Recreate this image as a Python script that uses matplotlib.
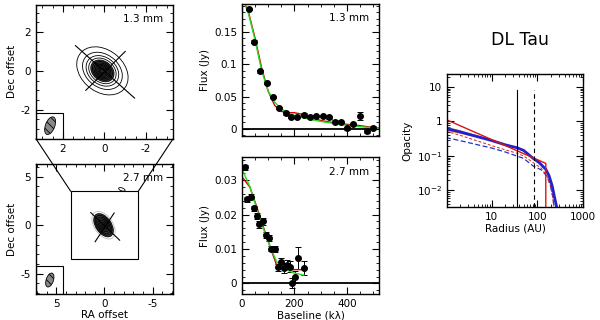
import numpy as np
import matplotlib
matplotlib.use('Agg')
import matplotlib.pyplot as plt
from matplotlib.patches import Ellipse, Rectangle, ConnectionPatch
from matplotlib.ticker import MultipleLocator, LogLocator, NullFormatter

## -----------------------------------------------------------------------------

## data

# visibilities, 1.3 mm
base13 = [25, 47, 70, 94, 119, 142, 166, 188, 211, 237, 260, 283, 307, 331, 355, 378, 401, 424, 449, 475, 498]
flux13 = [0.185, 0.135, 0.089, 0.071, 0.049, 0.032, 0.024, 0.019, 0.019, 0.022, 0.019, 0.020, 0.020, 0.018,
          0.011, 0.0105, 0.001, 0.0077, 0.020, -0.003, 0.002]
err13 = [0.002, 0.002, 0.002, 0.002, 0.002, 0.002, 0.002, 0.002, 0.002, 0.002, 0.002, 0.002, 0.002, 0.002,
         0.002, 0.002, 0.002, 0.002, 0.006, 0.003, 0.002]

# model curves, 1.3 mm
mbase13 = [0, 25, 50, 75, 100, 125, 150, 175, 200, 225, 250, 300, 350, 400, 450, 500, 520]
green13 = [0.205, 0.178, 0.137, 0.090, 0.058, 0.041, 0.031, 0.025, 0.021, 0.018, 0.0155, 0.0115, 0.0083,
           0.0055, 0.0033, 0.0017, 0.0012]
red13 = [0.205, 0.180, 0.140, 0.094, 0.058, 0.036, 0.027, 0.025, 0.025, 0.023, 0.019, 0.013, 0.0095,
         0.007, 0.005, 0.002, 0.0015]

# visibilities, 2.7 mm
base27 = [11, 20, 33, 46, 56, 66, 79, 91, 102, 112, 125, 136, 147, 159, 170, 183, 190, 202, 213, 236]
flux27 = [0.0337, 0.0244, 0.0252, 0.0218, 0.0196, 0.0172, 0.0181, 0.0140, 0.0132, 0.0101, 0.0100,
          0.0047, 0.0061, 0.0044, 0.0053, 0.0049, 0.0002, 0.0019, 0.0073, 0.0044]
err27 = [0.0008, 0.0008, 0.0008, 0.0008, 0.0008, 0.0010, 0.0010, 0.0008, 0.0008, 0.0008, 0.0008,
         0.0010, 0.0012, 0.0015, 0.0015, 0.0015, 0.0015, 0.0018, 0.0032, 0.0020]

# model curves, 2.7 mm
mbase27 = [5, 30, 56, 81, 107, 132, 157, 195, 236]
green27 = [0.0324, 0.0281, 0.0218, 0.0160, 0.0107, 0.0063, 0.0044, 0.0031, 0.0024]
red27 = [0.0305, 0.0280, 0.0223, 0.0165, 0.0107, 0.0053, 0.0044, 0.0040, 0.0040]

# continuum maps: contour half axes (arcsec)
cont13_a = [1.40, 1.08, 0.88, 0.74, 0.63, 0.54, 0.46, 0.38, 0.31, 0.24, 0.17, 0.10]
cont13_b = [1.05, 0.82, 0.68, 0.57, 0.48, 0.41, 0.35, 0.29, 0.24, 0.18, 0.13, 0.07]
cont27_a = [1.60, 1.35, 1.15, 0.95, 0.75, 0.55, 0.35, 0.15]
cont27_b = [0.95, 0.80, 0.68, 0.56, 0.45, 0.33, 0.21, 0.09]

# opacity profiles
rad_pl = [1, 153, 153]
opa_red = [1.14, 0.061, 0.001]
rad_taper = [1, 2, 5, 10, 20, 36, 50, 83, 110, 153, 180, 212, 240, 265, 280]
opa_blue = [0.62, 0.50, 0.36, 0.28, 0.21, 0.173, 0.145, 0.083, 0.064, 0.041, 0.027, 0.0133, 0.006, 0.0033, 0.001]
rad_dash = [1, 2, 5, 10, 20, 36, 50, 83, 120, 162, 190, 215, 230, 245]
opa_bdash = [0.34, 0.28, 0.21, 0.17, 0.13, 0.099, 0.085, 0.05, 0.04, 0.026, 0.015, 0.007, 0.0035, 0.001]
opa_rdash = [0.52, 0.40, 0.27, 0.20, 0.15, 0.12, 0.10, 0.063, 0.045, 0.027, 0.015, 0.007, 0.0035, 0.001]
rad_thin = [1, 2, 5, 10, 20, 36]
opa_orange = [0.55, 0.46, 0.35, 0.28, 0.21, 0.173]
opa_green = [0.60, 0.49, 0.36, 0.28, 0.21, 0.173]
opa_gray = [0.68, 0.54, 0.38, 0.29, 0.215, 0.175]
r_in = 36
r_c = 83

## -----------------------------------------------------------------------------

## plotting

plt.rcParams['font.family'] = 'DejaVu Sans'
plt.rcParams['font.size'] = 7.5
plt.rcParams['xtick.direction'] = 'in'
plt.rcParams['ytick.direction'] = 'in'
plt.rcParams['xtick.top'] = True
plt.rcParams['ytick.right'] = True
plt.rcParams['xtick.major.size'] = 5
plt.rcParams['ytick.major.size'] = 5
plt.rcParams['xtick.minor.size'] = 2.5
plt.rcParams['ytick.minor.size'] = 2.5
plt.rcParams['axes.linewidth'] = 1.0
plt.rcParams['hatch.linewidth'] = 0.6

fig = plt.figure(figsize=(6, 3.2), dpi=100)

ax1 = fig.add_axes([0.06, 0.566, 0.2283, 0.419])
ax2 = fig.add_axes([0.06, 0.081, 0.2283, 0.406])
ax3 = fig.add_axes([0.4033, 0.575, 0.2283, 0.4125])
ax4 = fig.add_axes([0.4033, 0.081, 0.2283, 0.428])
ax5 = fig.add_axes([0.745, 0.353, 0.2267, 0.416])


def mapframe(ax, a, b, angle, fill_from, beam, beamsize, box):
    for i, (ma, mi) in enumerate(zip(a, b)):
        fc = '#3a3a3a' if i == fill_from else 'none'
        ax.add_patch(Ellipse((0.1, 0), 2 * ma, 2 * mi, angle=angle, fc=fc, ec='k', lw=0.6))
    # beam
    ax.add_patch(Ellipse(beam, beamsize[0], beamsize[1], angle=109, fc='#888888', ec='k',
                         lw=0.6, hatch='\\\\\\\\'))
    ax.add_patch(Rectangle(box[0], box[1], box[2], fc='none', ec='k', lw=0.8))


zero_fmt = plt.FuncFormatter(lambda v, p: '0' if abs(v) < 1e-9 else '%g' % v)

# 1.3 mm map
ax1.set_xlim(3.3, -3.3)
ax1.set_ylim(-3.5, 3.4)
mapframe(ax1, cont13_a, cont13_b, 45, 4, (2.62, -2.82), (0.95, 0.45),
         ((2.0, -3.5), 1.3, 1.35))
ax1.plot([1.4, -1.45], [1.3, -1.4], 'k-', lw=0.8)
ax1.plot([0.9, -1.0], [-1.0, 1.0], 'k-', lw=0.8)
ax1.text(0.93, 0.93, '1.3 mm', transform=ax1.transAxes, ha='right', va='top')
ax1.xaxis.set_major_locator(MultipleLocator(2))
ax1.xaxis.set_minor_locator(MultipleLocator(0.5))
ax1.yaxis.set_major_locator(MultipleLocator(2))
ax1.yaxis.set_minor_locator(MultipleLocator(0.5))
ax1.xaxis.set_major_formatter(zero_fmt)
ax1.yaxis.set_major_formatter(zero_fmt)
ax1.set_ylabel('Dec offset', labelpad=3)

# 2.7 mm map
ax2.set_xlim(7.1, -7.1)
ax2.set_ylim(-7.1, 6.3)
mapframe(ax2, cont27_a, cont27_b, 55, 1, (5.67, -5.65), (1.5, 0.75),
         ((4.3, -7.1), 2.8, 2.9))
ax2.patches[0].set_edgecolor('#bbbbbb')
ax2.plot([1.42, -1.57], [1.3, -1.54], 'k-', lw=0.8)
ax2.plot([0.97, -1.0], [-1.7, 1.26], 'k-', lw=0.8)
ax2.add_patch(Ellipse((-1.8, 3.7), 0.7, 0.3, angle=20, fc='none', ec='k', lw=0.6))
ax2.add_patch(Rectangle((-3.5, -3.5), 7.0, 7.0, fc='none', ec='k', lw=0.8))
ax2.text(0.93, 0.93, '2.7 mm', transform=ax2.transAxes, ha='right', va='top')
ax2.xaxis.set_major_locator(MultipleLocator(5))
ax2.xaxis.set_minor_locator(MultipleLocator(1))
ax2.yaxis.set_major_locator(MultipleLocator(5))
ax2.yaxis.set_minor_locator(MultipleLocator(1))
ax2.xaxis.set_major_formatter(zero_fmt)
ax2.yaxis.set_major_formatter(zero_fmt)
ax2.set_xlabel('RA offset', labelpad=1)
ax2.set_ylabel('Dec offset', labelpad=3)

# zoom lines between maps
for xa, xb in [(3.3, 3.5), (-3.3, -3.5)]:
    con = ConnectionPatch(xyA=(xa, -3.5), coordsA=ax1.transData,
                          xyB=(xb, 3.5), coordsB=ax2.transData, color='k', lw=0.8)
    fig.add_artist(con)

# visibilities
for ax, b, f, e, mb, g, r, lab in [(ax3, base13, flux13, err13, mbase13, green13, red13, '1.3 mm'),
                                   (ax4, base27, flux27, err27, mbase27, green27, red27, '2.7 mm')]:
    ax.axhline(0, color='k', lw=1.3)
    ax.errorbar(b, f, yerr=e, fmt='o', color='k', ms=4, capsize=2, elinewidth=0.7, capthick=0.7)
    ax.plot(mb, r, color='#d00000', lw=1.0)
    ax.plot(mb, g, color='#22dd22', lw=1.0)
    ax.set_xlim(0, 522)
    ax.xaxis.set_major_locator(MultipleLocator(200))
    ax.xaxis.set_minor_locator(MultipleLocator(50))
    ax.yaxis.set_major_formatter(zero_fmt)
    ax.text(0.93, 0.93, lab, transform=ax.transAxes, ha='right', va='top')
    ax.set_ylabel('Flux (Jy)', labelpad=3)

ax3.set_ylim(-0.011, 0.193)
ax3.yaxis.set_major_locator(MultipleLocator(0.05))
ax3.yaxis.set_minor_locator(MultipleLocator(0.01))
ax3.tick_params(labelbottom=False)

ax4.set_ylim(-0.0031, 0.0367)
ax4.yaxis.set_major_locator(MultipleLocator(0.01))
ax4.yaxis.set_minor_locator(MultipleLocator(0.002))
ax4.set_xlabel('Baseline (k\u03bb)', labelpad=1)

# opacity
ax5.set_xscale('log')
ax5.set_yscale('log')
ax5.plot(rad_thin, opa_gray, color='#777777', lw=0.8)
ax5.plot(rad_thin, opa_orange, color='#ff9900', lw=0.8)
ax5.plot(rad_thin, opa_green, color='#229922', lw=0.8)
ax5.plot(rad_dash, opa_bdash, color='#2233cc', lw=0.9, ls='--', dashes=(4, 2))
ax5.plot(rad_dash, opa_rdash, color='#dd2222', lw=0.7, ls='--', dashes=(3, 2))
ax5.plot(rad_taper, opa_blue, color='#2222cc', lw=2.0)
ax5.plot(rad_pl, opa_red, color='#dd1111', lw=1.0)
ax5.axvline(r_in, ymax=0.88, color='k', lw=0.8)
ax5.axvline(r_c, ymax=0.88, color='k', lw=0.8, ls='--', dashes=(4, 3))
ax5.set_xlim(1.05, 1000)
ax5.set_ylim(0.0033, 24)
ax5.set_xticks([10, 100, 1000])
ax5.set_xticklabels(['10', '100', '1000'])
ax5.set_yticks([0.01, 0.1, 1, 10])
ax5.set_yticklabels(['10$^{-2}$', '10$^{-1}$', '1', '10'])
ax5.xaxis.set_minor_locator(LogLocator(base=10, subs=np.arange(2, 10)))
ax5.yaxis.set_minor_locator(LogLocator(base=10, subs=np.arange(2, 10)))
ax5.xaxis.set_minor_formatter(NullFormatter())
ax5.yaxis.set_minor_formatter(NullFormatter())
ax5.set_xlabel('Radius (AU)', labelpad=1)
ax5.set_ylabel('Opacity', labelpad=3)
fig.text(0.867, 0.875, 'DL Tau', ha='center', va='center', fontsize=12.5)

fig.savefig('out.png', dpi=100)
